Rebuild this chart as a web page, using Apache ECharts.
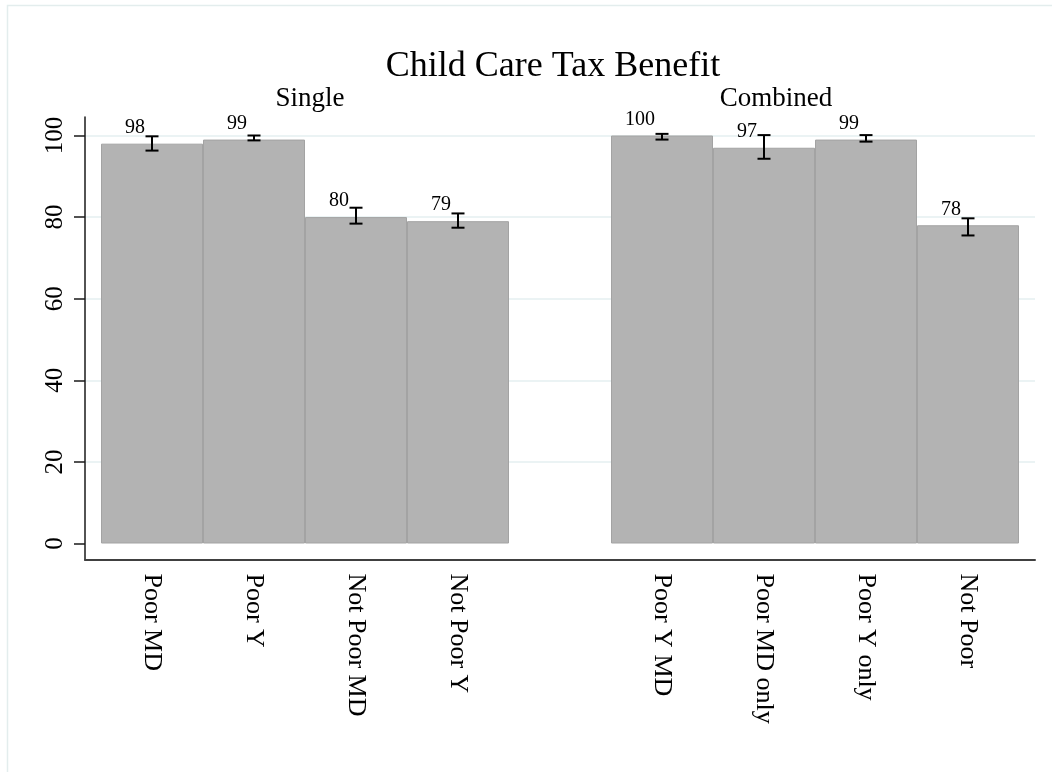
<!DOCTYPE html>
<html>
<head>
<meta charset="utf-8">
<title>Child Care Tax Benefit</title>
<script src="https://cdn.jsdelivr.net/npm/echarts@6/dist/echarts.min.js"></script>
<style>
  html, body { margin: 0; padding: 0; background: #ffffff; }
  #chart { width: 1052px; height: 772px; }
</style>
</head>
<body>
<div id="chart"></div>
<script>
// Chart text
const chartTitle = 'Child Care Tax Benefit';
const groupNames = ['Single', 'Combined'];

// Categories for each group
const singleCategories = ['Poor MD', 'Poor Y', 'Not Poor MD', 'Not Poor Y'];
const combinedCategories = ['Poor Y MD', 'Poor MD only', 'Poor Y only', 'Not Poor'];

// Percentages and confidence intervals
const singleValues = [98, 99, 80, 79];
const singleLower = [96.3, 98.8, 78.4, 77.4];
const singleUpper = [99.8, 100.0, 82.3, 80.9];

const combinedValues = [100, 97, 99, 78];
const combinedLower = [99.0, 94.3, 98.5, 75.5];
const combinedUpper = [100.4, 100.1, 100.1, 79.7];

// Y axis ticks
const yTicks = [0, 20, 40, 60, 80, 100];

// One empty slot separates the two groups on the category axis
const categories = [...singleCategories, '', ...combinedCategories];
const values = [...singleValues, null, ...combinedValues];
const lower = [...singleLower, null, ...combinedLower];
const upper = [...singleUpper, null, ...combinedUpper];

const errorData = [];
categories.forEach((c, i) => {
  if (values[i] != null) errorData.push([i, lower[i], upper[i], values[i]]);
});

const serif = '"Liberation Serif", "Times New Roman", serif';
const yStep = yTicks[1] - yTicks[0];

const chart = echarts.init(document.getElementById('chart'), null, { renderer: 'canvas' });

chart.setOption({
  animation: false,
  backgroundColor: '#ffffff',
  textStyle: { fontFamily: serif },
  graphic: [
    {
      type: 'rect', z: -10, silent: true,
      shape: { x: 7.5, y: 5.5, width: 1200, height: 1000 },
      style: { fill: 'none', stroke: '#e3eded', lineWidth: 1.5 }
    },
    {
      type: 'text', x: 553, y: 67,
      style: { text: chartTitle, font: '36px ' + serif, fill: '#000', align: 'center', verticalAlign: 'middle' }
    },
    {
      type: 'text', x: 310, y: 99,
      style: { text: groupNames[0], font: '27px ' + serif, fill: '#000', align: 'center', verticalAlign: 'middle' }
    },
    {
      type: 'text', x: 776, y: 99,
      style: { text: groupNames[1], font: '27px ' + serif, fill: '#000', align: 'center', verticalAlign: 'middle' }
    }
  ],
  grid: [
    // frame axes
    { left: 85, right: 17, top: 117, bottom: 212 },
    // value scale: ticks, labels, grid lines
    { left: 85, right: 17, top: 135.5, bottom: 228.5 },
    // bars and category labels
    { left: 101, right: 33, top: 135.5, bottom: 228.5 }
  ],
  xAxis: [
    {
      gridIndex: 0, type: 'value', min: 0, max: 1,
      axisLine: { show: true, onZero: false, lineStyle: { color: '#404040', width: 2 } },
      axisTick: { show: false }, axisLabel: { show: false }, splitLine: { show: false }
    },
    {
      gridIndex: 1, type: 'value', min: 0, max: 1, show: false
    },
    {
      gridIndex: 2, type: 'category', data: categories, boundaryGap: true,
      axisLine: { show: false }, axisTick: { show: false }, splitLine: { show: false },
      axisLabel: {
        interval: 0, rotate: -90, margin: 30,
        fontSize: 26, fontFamily: serif, color: '#000'
      }
    }
  ],
  yAxis: [
    {
      gridIndex: 0, type: 'value', min: 0, max: 1,
      axisLine: { show: true, onZero: false, lineStyle: { color: '#1a1a1a', width: 1.5 } },
      axisTick: { show: false }, axisLabel: { show: false }, splitLine: { show: false }
    },
    {
      gridIndex: 1, type: 'value',
      min: yTicks[0], max: yTicks[yTicks.length - 1], interval: yStep,
      axisLine: { show: false },
      axisTick: { show: true, length: 11, lineStyle: { color: '#1a1a1a', width: 1.5 } },
      axisLabel: { rotate: 90, margin: 17, fontSize: 25, fontFamily: serif, color: '#000' },
      splitLine: { show: true, showMinLine: false, lineStyle: { color: '#e5eff1', width: 1.5 } }
    },
    {
      gridIndex: 2, type: 'value',
      min: yTicks[0], max: yTicks[yTicks.length - 1], show: false
    }
  ],
  series: [
    {
      type: 'bar', xAxisIndex: 2, yAxisIndex: 2,
      data: values,
      barWidth: '100%', barCategoryGap: '0%',
      itemStyle: { color: '#b3b3b3', borderColor: '#a3a3a3', borderWidth: 1 },
      z: 2
    },
    {
      type: 'custom', xAxisIndex: 2, yAxisIndex: 2,
      data: errorData,
      z: 5,
      renderItem(params, api) {
        const x = api.value(0);
        const lo = api.coord([x, api.value(1)]);
        const hi = api.coord([x, api.value(2)]);
        const top = api.coord([x, api.value(3)]);
        const half = 6.5;
        const stroke = { stroke: '#000', lineWidth: 2 };
        return {
          type: 'group',
          children: [
            { type: 'line', shape: { x1: hi[0], y1: hi[1], x2: lo[0], y2: lo[1] }, style: stroke },
            { type: 'line', shape: { x1: hi[0] - half, y1: hi[1], x2: hi[0] + half, y2: hi[1] }, style: stroke },
            { type: 'line', shape: { x1: lo[0] - half, y1: lo[1], x2: lo[0] + half, y2: lo[1] }, style: stroke },
            {
              type: 'text', x: top[0] - 7, y: top[1] - 6,
              style: {
                text: String(api.value(3)), font: '20px ' + serif, fill: '#000',
                align: 'right', verticalAlign: 'bottom'
              }
            }
          ]
        };
      }
    }
  ]
});
</script>
</body>
</html>
